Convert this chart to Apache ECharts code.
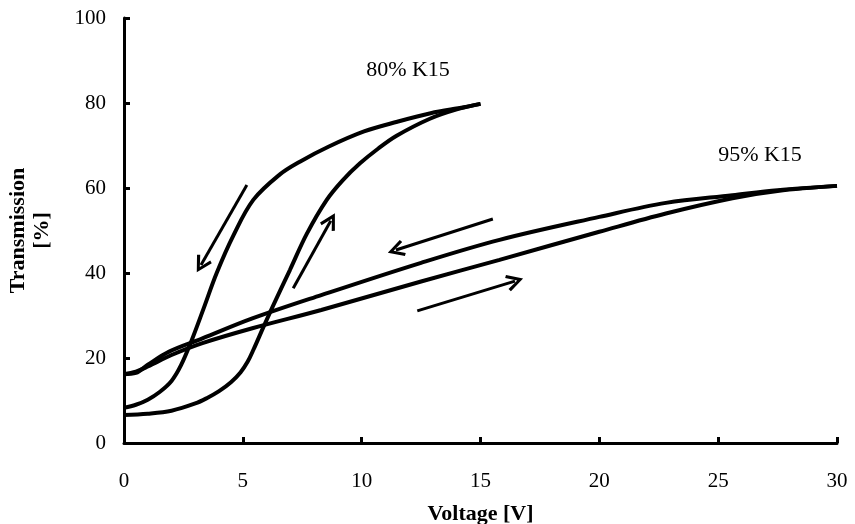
<!DOCTYPE html>
<html>
<head>
<meta charset="utf-8">
<script src="https://cdn.jsdelivr.net/npm/echarts@6/dist/echarts.min.js"></script>
<style>
  html, body { margin: 0; padding: 0; background: #fff; }
  #main { width: 855px; height: 524px; }
</style>
</head>
<body>
<div id="main"></div>
<script>
// 80% K15, voltage going up (lower branch)
var up80 = [
  [0, 6.6], [1, 6.9], [2, 7.6], [3, 9.3], [3.5, 10.6], [4, 12.2], [4.5, 14.3],
  [4.9, 16.6], [5.2, 19.1], [5.45, 22], [5.86, 27.2], [6.28, 32.4], [6.98, 40.7],
  [7.69, 49.2], [8.53, 57.2], [9.2, 61.8], [9.93, 65.8], [10.7, 69.3], [11.47, 72.3],
  [12.87, 76.3], [14, 78.5], [15, 79.8]
];
// 80% K15, voltage going down (upper branch)
var down80 = [
  [15, 79.8], [14.3, 79.0], [12.9, 77.6], [11.5, 75.6], [10.1, 73.3], [8.6, 69.7],
  [7.4, 66.2], [6.56, 63.2], [5.44, 57.2], [4.6, 48.8], [3.9, 40], [3.34, 31.5],
  [2.85, 24.2], [2.4, 18.3], [2, 14.6], [1.5, 12], [1, 10.2], [0.5, 9.0], [0, 8.3]
];
// 95% K15, voltage going up
var up95 = [
  [0, 16.2], [0.5, 16.8], [1, 18], [2, 20.7], [3.3, 23.5], [5.4, 27], [8.3, 31.3],
  [12.5, 38], [15.8, 43.1], [20, 49.7], [22.8, 54], [25.6, 57.6], [27.5, 59.3], [30, 60.5]
];
// 95% K15, voltage going down
var down95 = [
  [30, 60.5], [27.5, 59.5], [25.6, 58.3], [22.8, 56.5], [20, 53.2], [15.8, 47.8],
  [12.5, 42.4], [8.3, 34.8], [5.4, 29.3], [3.3, 24.6], [1.9, 21.5], [1, 18.4],
  [0.5, 16.5], [0, 16.2]
];
// hand drawn direction arrows [from, to] in data units
var arrows = [
  [[5.17, 60.7], [3.24, 41.9]],
  [[7.12, 36.4], [8.70, 52.3]],
  [[15.52, 52.7], [11.44, 45.4]],
  [[12.34, 31.1], [16.45, 38.1]]
];
// curve labels
var labels = [
  { value: [11.95, 87.8], name: '80% K15' },
  { value: [26.76, 67.8], name: '95% K15' }
];
var xTicks = [0, 5, 10, 15, 20, 25, 30];
var yTicks = [0, 20, 40, 60, 80, 100];

var font = '"Liberation Serif", "Times New Roman", serif';
var chart = echarts.init(document.getElementById('main'), null, { renderer: 'canvas' });

function curve(name, data) {
  return {
    name: name,
    type: 'line',
    data: data,
    smooth: 0.35,
    symbol: 'none',
    lineStyle: { color: '#000', width: 4 },
    z: 3
  };
}

var option = {
  animation: false,
  backgroundColor: '#fff',
  grid: { left: 124, right: 18, top: 18, bottom: 81, outerBoundsMode: 'none' },
  xAxis: {
    type: 'value',
    min: xTicks[0],
    max: xTicks[xTicks.length - 1],
    interval: 5,
    name: 'Voltage [V]',
    nameLocation: 'middle',
    nameGap: 60,
    nameTextStyle: { fontFamily: font, fontWeight: 'bold', fontSize: 22, color: '#000' },
    axisLine: { lineStyle: { color: '#000', width: 3 } },
    axisTick: { inside: true, length: 6, lineStyle: { color: '#000', width: 3 } },
    axisLabel: { margin: 28, fontFamily: font, fontSize: 21, color: '#000' },
    splitLine: { show: false }
  },
  yAxis: {
    type: 'value',
    min: yTicks[0],
    max: yTicks[yTicks.length - 1],
    interval: 20,
    name: 'Transmission\n[%]',
    nameLocation: 'middle',
    nameRotate: 90,
    nameGap: 70,
    nameTextStyle: { fontFamily: font, fontWeight: 'bold', fontSize: 22, color: '#000', lineHeight: 24 },
    axisLine: { lineStyle: { color: '#000', width: 3 } },
    axisTick: { inside: true, length: 6, lineStyle: { color: '#000', width: 3 } },
    axisLabel: { margin: 18, fontFamily: font, fontSize: 21, color: '#000' },
    splitLine: { show: false }
  },
  series: [
    curve('80% up', up80),
    curve('80% down', down80),
    curve('95% up', up95),
    curve('95% down', down95),
    {
      type: 'lines',
      coordinateSystem: 'cartesian2d',
      polyline: false,
      symbol: ['none', 'path://M5,0 L10,9 L8.4,10 L5,3.6 L1.6,10 L0,9 Z'],
      symbolSize: 17,
      lineStyle: { color: '#000', width: 3, opacity: 1 },
      itemStyle: { color: '#000' },
      data: arrows.map(function (a) { return { coords: a }; }),
      z: 4
    },
    {
      type: 'scatter',
      symbolSize: 0,
      data: labels,
      itemStyle: { opacity: 1 },
      label: {
        show: true,
        position: 'inside',
        formatter: '{b}',
        fontFamily: font,
        fontSize: 22,
        color: '#000',
        opacity: 1
      },
      z: 5
    }
  ]
};
chart.setOption(option);
</script>
</body>
</html>
